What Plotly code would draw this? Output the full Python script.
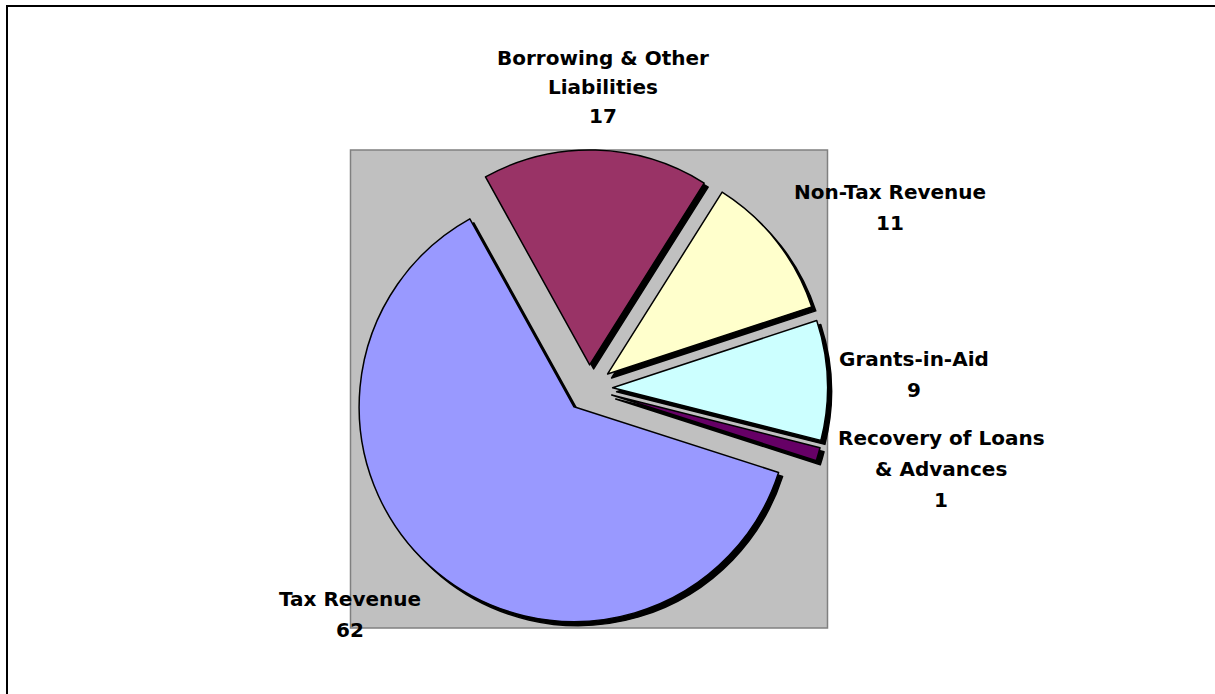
import plotly.graph_objects as go

# ---- data ----
labels = ["Borrowing & Other Liabilities", "Non-Tax Revenue", "Grants-in-Aid",
          "Recovery of Loans & Advances", "Tax Revenue"]
values = [17, 11, 9, 1, 62]
colors = ["#993366", "#FFFFCC", "#CCFFFF", "#660066", "#9999FF"]
label_lines = [["Borrowing & Other", "Liabilities", "17"],
               ["Non-Tax Revenue", "11"],
               ["Grants-in-Aid", "9"],
               ["Recovery of Loans", "& Advances", "1"],
               ["Tax Revenue", "62"]]

# ---- layout geometry (pixels) ----
W, H = 1215, 694
box_x0, box_x1 = 350.5, 827.5
box_y0, box_y1 = 150, 627   # top, bottom in pixel coords
shadow_dx, shadow_dy = 4, 4
pull = 0.11
rotation = 331

def px_x(px):
    return px / W

def px_y(py):
    return 1 - py / H

dom_x = [px_x(box_x0), px_x(box_x1)]
dom_y = [px_y(box_y1), px_y(box_y0)]
sh_x = [px_x(box_x0 + shadow_dx), px_x(box_x1 + shadow_dx)]
sh_y = [px_y(box_y1 + shadow_dy), px_y(box_y0 + shadow_dy)]

fig = go.Figure()
# shadow
fig.add_trace(go.Pie(
    labels=labels, values=values, sort=False, direction="clockwise",
    rotation=rotation, pull=[pull] * len(values),
    marker=dict(colors=["#000000"] * len(values), line=dict(color="#000000", width=1.5)),
    textinfo="none", hoverinfo="skip", showlegend=False,
    domain=dict(x=sh_x, y=sh_y),
))
# main pie
fig.add_trace(go.Pie(
    labels=labels, values=values, sort=False, direction="clockwise",
    rotation=rotation, pull=[pull] * len(values),
    marker=dict(colors=colors, line=dict(color="#000000", width=1.5)),
    textinfo="none", showlegend=False,
    domain=dict(x=dom_x, y=dom_y),
))

# label text positions (pixel centres of each line)
label_pos = [(603, [58, 87, 116]),
             (890, [192, 223]),
             (914, [359, 390]),
             (941, [438, 469, 500]),
             (350, [599, 630])]

annotations = []
for lines, (cx, ys) in zip(label_lines, label_pos):
    for line, cy in zip(lines, ys):
        annotations.append(dict(
            x=px_x(cx), y=px_y(cy), xref="paper", yref="paper",
            text=line, showarrow=False, xanchor="center", yanchor="middle",
            font=dict(family="DejaVu Sans", size=20, color="#000000", weight="bold"),
        ))

shapes = [
    # gray plot area
    dict(type="rect", xref="paper", yref="paper", layer="below",
         x0=px_x(box_x0), x1=px_x(box_x1), y0=px_y(box_y1 + 1), y1=px_y(box_y0),
         fillcolor="#C0C0C0", line=dict(color="#808080", width=1.5)),
    # chart border (left/top visible)
    dict(type="rect", xref="paper", yref="paper", layer="below",
         x0=px_x(7), x1=px_x(W + 20), y0=px_y(H + 20), y1=px_y(6),
         fillcolor="rgba(0,0,0,0)", line=dict(color="#000000", width=2)),
]

fig.update_layout(
    width=W, height=H, autosize=False,
    margin=dict(l=0, r=0, t=0, b=0),
    paper_bgcolor="#FFFFFF", plot_bgcolor="#FFFFFF",
    annotations=annotations, shapes=shapes,
    showlegend=False,
)

fig.write_html("out.html")
